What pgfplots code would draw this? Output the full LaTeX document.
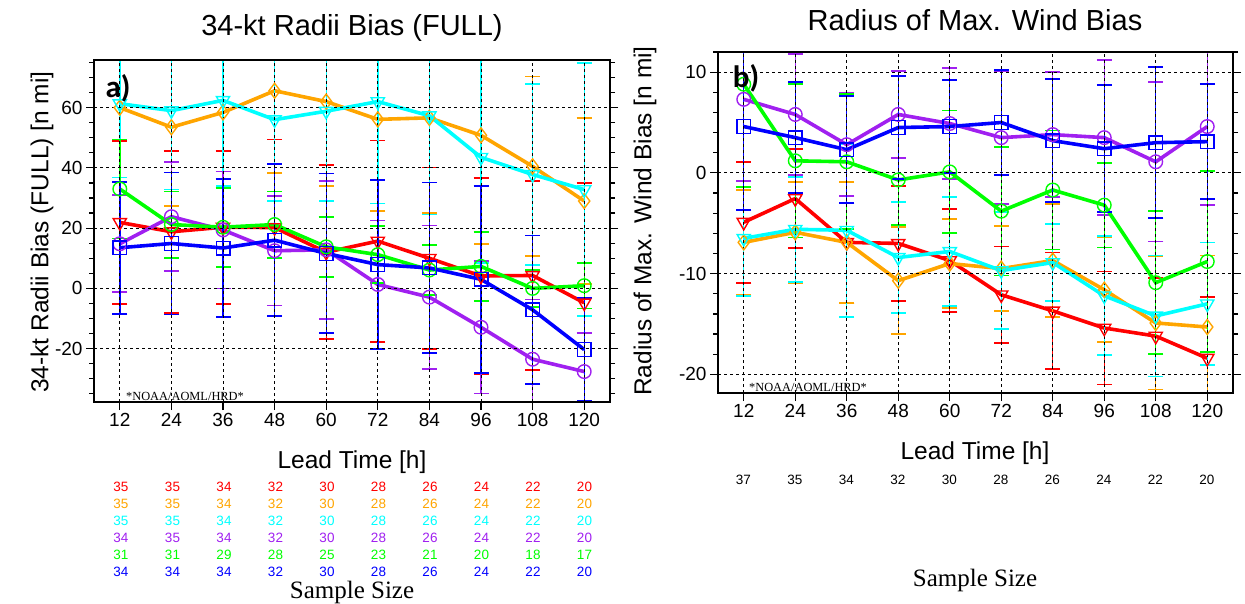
\documentclass[border=0pt]{standalone}
\usepackage{pgfplots}
\pgfplotsset{compat=1.18}
\usepackage{fontspec}
\setmainfont{Liberation Sans}
\newfontfamily\seriffont{Liberation Serif}
\newfontfamily\calib{Carlito}
\definecolor{cRed}{RGB}{255,0,0}
\definecolor{cOrange}{RGB}{255,165,0}
\definecolor{cCyan}{RGB}{0,255,255}
\definecolor{cPurple}{RGB}{160,32,240}
\definecolor{cGreen}{RGB}{0,255,0}
\definecolor{cBlue}{RGB}{0,0,255}
\pgfplotsset{
  panel/.style={
    scale only axis, axis on top,
    xmin=6, xmax=126, xtick={12,24,...,120},
    tick align=outside, xtick pos=lower, ytick pos=both,
    major tick length=8pt, minor tick length=5pt,
    every tick/.style={black, line width=1.2pt},
    axis line style={line width=1.6pt},
    xmajorgrids, ymajorgrids,
    major grid style={black, line width=0.8pt, dash pattern=on 3pt off 3pt},
    tick label style={font=\fontsize{19}{22}\selectfont},
    /pgf/number format/assume math mode=true,
  },
  ser/.style={solid, line width=3.6pt, mark size=6.8pt,
    error bars/y dir=both, error bars/y explicit,
    error bars/error bar style={solid, line width=1.4pt},
    error bars/error mark options={rotate=90, mark size=7.5pt, line width=1.7pt}},
  sRed/.style={ser, color=cRed, mark=triangle, mark options={solid, rotate=180, line width=1.4pt, fill=none, scale=1.12}},
  sOrange/.style={ser, color=cOrange, mark=diamond, mark options={solid, line width=1.4pt, fill=none, scale=1.1}},
  sCyan/.style={ser, color=cCyan, mark=triangle, mark options={solid, rotate=180, line width=1.4pt, fill=none, scale=1.12}},
  sPurple/.style={ser, color=cPurple, mark=o, mark options={solid, line width=1.4pt, fill=none}},
  sGreen/.style={ser, color=cGreen, mark=o, mark options={solid, line width=1.4pt, fill=none}},
  sBlue/.style={ser, color=cBlue, mark=square, mark options={solid, line width=1.4pt, fill=none}},
}
\begin{document}
\begin{tikzpicture}[x=1pt,y=1pt]
\useasboundingbox (0,0) rectangle (1245,603);
% ---------------- left panel ----------------
\begin{axis}[panel, at={(94pt,201pt)}, anchor=south west,
  width=516pt, height=342pt,
  ymin=-37.7, ymax=75.8, ytick={-20,0,20,40,60}, minor ytick={-35,-30,...,75}]
\addplot[sRed] coordinates {
 (12,21.9) +- (0,27.0) (24,18.8) +- (0,26.9) (36,20.3) +- (0,25.4) (48,20.2) +- (0,29.2)
 (60,12.0) +- (0,28.9) (72,15.7) +- (0,33.4) (84,10.0) +- (0,30.1) (96,4.1) +- (0,32.5)
 (108,4.3) +- (0,31.3) (120,-4.8) +- (0,39.8)};
\addplot[sOrange] coordinates {
 (12,60.0) +- (0,24.5) (24,53.5) +- (0,26.2) (36,58.4) +- (0,24.6) (48,65.6) +- (0,27.4)
 (60,62.0) +- (0,28.1) (72,56.1) +- (0,30.5) (84,56.6) +- (0,31.5) (96,50.8) +- (0,36.1)
 (108,40.5) +- (0,29.8) (120,29.0) +- (0,27.6)};
\addplot[sCyan] coordinates {
 (12,61.3) +- (0,24.5) (24,59.0) +- (0,26.2) (36,62.4) +- (0,28.4) (48,56.0) +- (0,27.0)
 (60,58.8) +- (0,29.7) (72,62.0) +- (0,33.8) (84,57.3) +- (0,32.8) (96,43.5) +- (0,35.0)
 (108,37.8) +- (0,30.0) (120,32.8) +- (0,42.0)};
\addplot[sPurple] coordinates {
 (12,14.8) +- (0,16.1) (24,23.8) +- (0,18.1) (36,19.4) +- (0,19.4) (48,12.5) +- (0,18.2)
 (60,12.8) +- (0,22.9) (72,1.3) +- (0,21.2) (84,-2.9) +- (0,23.8) (96,-12.9) +- (0,22.0)
 (108,-23.5) +- (0,19.8) (120,-27.6) +- (0,12.7)};
\addplot[sGreen] coordinates {
 (12,33.0) +- (0,16.4) (24,21.2) +- (0,11.0) (36,20.3) +- (0,13.1) (48,21.2) +- (0,11.0)
 (60,13.8) +- (0,9.9) (72,11.2) +- (0,9.4) (84,6.1) +- (0,8.3) (96,7.3) +- (0,11.4)
 (108,0.0) +- (0,6.2) (120,0.9) +- (0,7.6)};
\addplot[sBlue] coordinates {
 (12,13.5) +- (0,21.9) (24,14.9) +- (0,23.6) (36,13.4) +- (0,23.0) (48,16.0) +- (0,25.2)
 (60,11.6) +- (0,26.5) (72,7.9) +- (0,28.1) (84,6.8) +- (0,28.3) (96,3.0) +- (0,31.1)
 (108,-7.1) +- (0,24.7) (120,-20.3) +- (0,17.1)};
\end{axis}
% ---------------- right panel ----------------
\begin{axis}[panel, at={(718pt,210pt)}, anchor=south west,
  width=515pt, height=341pt,
  ymin=-21.85, ymax=12, ytick={-20,-10,0,10}, minor ytick={-20,-18,...,12}]
\addplot[sRed] coordinates {
 (12,-4.9) +- (0,6.0) (24,-2.55) +- (0,4.9) (36,-6.9) +- (0,6.0) (48,-7.0) +- (0,5.7)
 (60,-8.7) +- (0,5.1) (72,-12.1) +- (0,4.8) (84,-13.7) +- (0,5.8) (96,-15.4) +- (0,5.6)
 (108,-16.2) +- (0,5.8) (120,-18.4) +- (0,6.1)};
\addplot[sOrange] coordinates {
 (12,-6.9) +- (0,5.2) (24,-5.9) +- (0,5.0) (36,-6.9) +- (0,6.0) (48,-10.7) +- (0,5.3)
 (60,-9.0) +- (0,4.4) (72,-9.5) +- (0,4.2) (84,-8.7) +- (0,5.6) (96,-11.6) +- (0,5.2)
 (108,-14.9) +- (0,6.6) (120,-15.3) +- (0,7.1)};
\addplot[sCyan] coordinates {
 (12,-6.5) +- (0,5.7) (24,-5.6) +- (0,5.2) (36,-5.7) +- (0,8.6) (48,-8.4) +- (0,5.5)
 (60,-7.8) +- (0,5.4) (72,-9.7) +- (0,5.8) (84,-8.9) +- (0,3.8) (96,-12.2) +- (0,5.9)
 (108,-14.2) +- (0,6.0) (120,-13.0) +- (0,6.1)};
\addplot[sPurple] coordinates {
 (12,7.3) +- (0,8.1) (24,5.8) +- (0,6.0) (36,2.8) +- (0,5.1) (48,5.8) +- (0,4.3)
 (60,4.9) +- (0,5.5) (72,3.5) +- (0,6.6) (84,3.8) +- (0,6.2) (96,3.5) +- (0,7.7)
 (108,1.1) +- (0,7.9) (120,4.6) +- (0,7.8)};
\addplot[sGreen] coordinates {
 (12,8.8) +- (0,10.2) (24,1.2) +- (0,7.6) (36,1.1) +- (0,6.7) (48,-0.7) +- (0,4.5)
 (60,0.1) +- (0,6.1) (72,-3.8) +- (0,6.4) (84,-1.7) +- (0,5.9) (96,-3.2) +- (0,4.2)
 (108,-10.9) +- (0,7.1) (120,-8.8) +- (0,9.0)};
\addplot[sBlue] coordinates {
 (12,4.6) +- (0,8.3) (24,3.5) +- (0,5.5) (36,2.3) +- (0,5.3) (48,4.5) +- (0,5.1)
 (60,4.6) +- (0,4.6) (72,5.0) +- (0,5.2) (84,3.2) +- (0,6.1) (96,2.4) +- (0,6.3)
 (108,3.0) +- (0,7.5) (120,3.1) +- (0,5.7)};
\end{axis}
% ---------------- texts ----------------
\node[font=\fontsize{29}{32}\selectfont] at (352,575) {34-kt Radii Bias (FULL)};
\node[font=\fontsize{29}{32}\selectfont] at (975,583) {Radius of Max. Wind Bias};
\node[font=\fontsize{24.5}{27}\selectfont] at (352,141) {Lead Time [h]};
\node[font=\fontsize{24.5}{27}\selectfont] at (975,150) {Lead Time [h]};
\node[font=\fontsize{24.5}{27}\selectfont, rotate=90] at (42,371) {34-kt Radii Bias (FULL) [n mi]};
\node[font=\fontsize{24.5}{27}\selectfont, rotate=90] at (645,382) {Radius of Max. Wind Bias [n mi]};
\node[font=\calib\bfseries\fontsize{31}{33}\selectfont] at (118,515) {a)};
\node[font=\calib\bfseries\fontsize{31}{33}\selectfont] at (746,525) {b)};
\node[font=\seriffont\fontsize{12.4}{14}\selectfont] at (185,207) {*NOAA/AOML/HRD*};
\node[font=\seriffont\fontsize{12.4}{14}\selectfont] at (808,216) {*NOAA/AOML/HRD*};
\node[font=\seriffont\fontsize{25}{28}\selectfont, inner sep=0pt] at (352,11) {Sample Size};
\node[font=\seriffont\fontsize{25}{28}\selectfont, inner sep=0pt] at (975,23) {Sample Size};
% sample sizes, left panel
\foreach \c/\yy/\vals in {cRed/116/{35,35,34,32,30,28,26,24,22,20},
                          cOrange/99/{35,35,34,32,30,28,26,24,22,20},
                          cCyan/82/{35,35,34,32,30,28,26,24,22,20},
                          cPurple/65/{34,35,34,32,30,28,26,24,22,20},
                          cGreen/48/{31,31,29,28,25,23,21,20,18,17},
                          cBlue/31/{34,34,34,32,30,28,26,24,22,20}} {
  \foreach \v [count=\k from 0] in \vals {
    \node[text=\c, inner sep=1pt, font=\fontsize{13.5}{15}\selectfont] at ({121+51.5*\k},\yy) {\v};
  }
}
% sample sizes, right panel
\foreach \v [count=\k from 0] in {37,35,34,32,30,28,26,24,22,20} {
  \node[font=\fontsize{13.5}{15}\selectfont] at ({743.3+51.5*\k},123) {\v};
}
\end{tikzpicture}
\end{document}
